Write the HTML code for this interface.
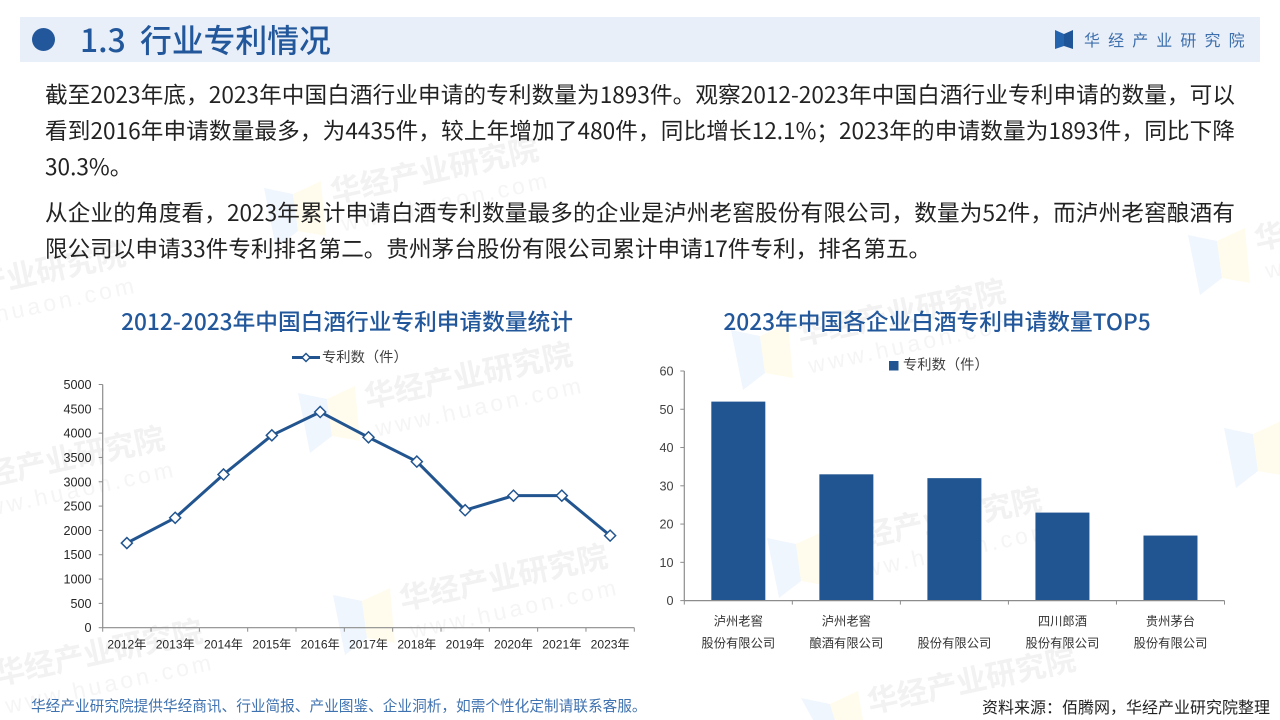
<!DOCTYPE html>
<html lang="zh-CN">
<head>
<meta charset="utf-8">
<title>1.3 行业专利情况</title>
<style>
html,body{margin:0;padding:0;background:#fff;overflow:hidden;width:1280px;height:720px;}
#stage{position:relative;width:1280px;height:720px;overflow:hidden;background:#fff;font-family:"Liberation Sans","Noto Sans CJK SC",sans-serif;}
.abs{position:absolute;white-space:nowrap;}
.body-line{left:45px;width:1190px;font-size:22.6px;line-height:36px;height:36px;color:#222;font-family:"Noto Sans CJK SC",sans-serif;}
.just{text-align:justify;text-align-last:justify;white-space:normal;}
svg{position:absolute;left:0;top:0;}
</style>
</head>
<body>
<div id="stage">

<svg id="wm" width="1280" height="720"></svg>

<div class="abs" style="left:20px;top:17px;width:1240px;height:45px;background:#e9eff8;"></div>
<div class="abs" style="left:32px;top:28px;width:23px;height:23px;border-radius:50%;background:#22589b;"></div>
<div class="abs" style="left:80px;top:15px;height:48px;line-height:48px;font-size:31.8px;font-weight:500;color:#22589b;font-family:'Noto Sans CJK SC',sans-serif;">1.3&nbsp; 行业专利情况</div>
<svg width="1280" height="720" style="pointer-events:none">
  <polygon points="1055,30 1064,34 1064,46 1055,49" fill="#2463ae"/>
  <polygon points="1073,30 1064,34 1064,46 1073,49" fill="#1d5598"/>
</svg>
<div class="abs" style="left:1084px;top:27px;height:24px;line-height:24px;font-size:16px;letter-spacing:8.1px;color:#3d6fad;font-family:'Noto Sans CJK SC',sans-serif;">华经产业研究院</div>

<div class="abs body-line just" style="top:76px;">截至2023年底，2023年中国白酒行业申请的专利数量为1893件。观察2012-2023年中国白酒行业专利申请的数量，可以</div>
<div class="abs body-line just" style="top:112px;">看到2016年申请数量最多，为4435件，较上年增加了480件，同比增长12.1%；2023年的申请数量为1893件，同比下降</div>
<div class="abs body-line" style="top:148px;">30.3%。</div>
<div class="abs body-line just" style="top:194px;">从企业的角度看，2023年累计申请白酒专利数量最多的企业是泸州老窖股份有限公司，数量为52件，而泸州老窖酿酒有</div>
<div class="abs body-line" style="top:230px;">限公司以申请33件专利排名第二。贵州茅台股份有限公司累计申请17件专利，排名第五。</div>

<div class="abs" style="left:47px;width:600px;text-align:center;top:304px;height:34px;line-height:34px;font-size:22.7px;font-weight:500;color:#22589b;font-family:'Noto Sans CJK SC',sans-serif;">2012-2023年中国白酒行业专利申请数量统计</div>
<div class="abs" style="left:637px;width:600px;text-align:center;top:304px;height:34px;line-height:34px;font-size:22.7px;font-weight:500;color:#22589b;font-family:'Noto Sans CJK SC',sans-serif;">2023年中国各企业白酒专利申请数量TOP5</div>

<svg id="chart" width="1280" height="720"></svg>

<div class="abs" style="left:31px;top:696px;height:20px;line-height:20px;font-size:14.67px;color:#3f72b0;font-family:'Noto Sans CJK SC',sans-serif;">华经产业研究院提供华经商讯、行业简报、产业图鉴、企业洞析，如需个性化定制请联系客服。</div>
<div class="abs" style="left:982px;top:695px;height:22px;line-height:22px;font-size:16px;color:#222;font-family:'Noto Sans CJK SC',sans-serif;">资料来源：佰腾网，华经产业研究院整理</div>
</div>

<script>
// Line chart data
var lineCategories = ['2012年','2013年','2014年','2015年','2016年','2017年','2018年','2019年','2020年','2021年','2023年'];
var lineValues = [1740,2260,3150,3955,4435,3915,3415,2415,2715,2715,1893];
var lineTicks = [0,500,1000,1500,2000,2500,3000,3500,4000,4500,5000];
var lineSeriesName = '专利数（件）';

// Bar chart data
var barCategoriesLine1 = ['泸州老窖','泸州老窖','','四川郎酒','贵州茅台'];
var barCategoriesLine2 = ['股份有限公司','酿酒有限公司','股份有限公司','股份有限公司','股份有限公司'];
var barValues = [52,33,32,23,17];
var barTicks = [0,10,20,30,40,50,60];
var barSeriesName = '专利数（件）';

var NS = 'http://www.w3.org/2000/svg';
var FONT = '"Liberation Sans","Noto Sans CJK SC",sans-serif';
var svg = document.getElementById('chart');

function make(tag, attrs, parent, text) {
  var el = document.createElementNS(NS, tag);
  for (var k in attrs) { el.setAttribute(k, attrs[k]); }
  if (text !== undefined) { el.textContent = text; }
  (parent || svg).appendChild(el);
  return el;
}

/* ---------- line chart ---------- */
var lx0 = 102.7, lx1 = 634.3, ly0 = 627.7, ly1 = 384.5, lMax = 5000;
function lineX(i) { return lx0 + (i + 0.5) * (lx1 - lx0) / lineCategories.length; }
function lineY(v) { return ly0 - (v / lMax) * (ly0 - ly1); }

var lineAxisY = make('line', {x1:lx0,y1:ly0,x2:lx0,y2:ly1,stroke:'#8c8c8c','stroke-width':1.2});


var lineAxisX = make('line', {x1:lx0,y1:ly0,x2:lx1,y2:ly0,stroke:'#8c8c8c','stroke-width':1.2});



lineTicks.forEach(function (t) {
  var y = lineY(t);
  make('line', {x1:lx0-4,y1:y,x2:lx0,y2:y,stroke:'#8c8c8c','stroke-width':1});
  var lab = make('text', {x:91.5,y:y+4.5,'text-anchor':'end','font-size':12.6,fill:'#262626','font-family':FONT}, svg, String(t));
  
  
});
lineCategories.forEach(function (c, i) {
  var step = (lx1 - lx0) / lineCategories.length;
  make('line', {x1:lx0+i*step,y1:ly0,x2:lx0+i*step,y2:ly0+4,stroke:'#8c8c8c','stroke-width':1});
  var lab = make('text', {x:lineX(i),y:648.5,'text-anchor':'middle','font-size':12.1,fill:'#262626','font-family':FONT}, svg, c);
  
  
});
make('line', {x1:lx1,y1:ly0,x2:lx1,y2:ly0+4,stroke:'#8c8c8c','stroke-width':1});

var linePts = lineValues.map(function (v, i) { return lineX(i) + ',' + lineY(v); }).join(' ');
var seriesLine = make('polyline', {points:linePts,fill:'none',stroke:'#22558f','stroke-width':3,'stroke-linejoin':'round'});



function diamond(cx, cy, r, parent) {
  return make('polygon', {points:(cx-r)+','+cy+' '+cx+','+(cy-r)+' '+(cx+r)+','+cy+' '+cx+','+(cy+r),fill:'#fff',stroke:'#22558f','stroke-width':1.5}, parent);
}
lineValues.forEach(function (v, i) {
  var d = diamond(lineX(i), lineY(v), 5.5);
  
  
});

var legLine = make('line', {x1:292,y1:357.5,x2:320,y2:357.5,stroke:'#22558f','stroke-width':3});


var legD = diamond(306, 357.5, 4);


var legT = make('text', {x:322,y:362,'font-size':14.3,fill:'#404040','font-family':FONT}, svg, lineSeriesName);



/* ---------- bar chart ---------- */
var bx0 = 684.3, bx1 = 1224.5, by0 = 600.6, by1 = 371, bMax = 60, barW = 54;
function barX(i) { return bx0 + (i + 0.5) * (bx1 - bx0) / barValues.length; }
function barY(v) { return by0 - (v / bMax) * (by0 - by1); }

barValues.forEach(function (v, i) {
  var r = make('rect', {x:barX(i)-barW/2,y:barY(v),width:barW,height:by0-barY(v),fill:'#215591'});
  
  
});
var barAxisY = make('line', {x1:bx0,y1:by0,x2:bx0,y2:by1,stroke:'#8c8c8c','stroke-width':1.2});


var barAxisX = make('line', {x1:bx0,y1:by0,x2:bx1,y2:by0,stroke:'#8c8c8c','stroke-width':1.2});



barTicks.forEach(function (t) {
  var y = barY(t);
  make('line', {x1:bx0-4,y1:y,x2:bx0,y2:y,stroke:'#8c8c8c','stroke-width':1});
  var lab = make('text', {x:673.5,y:y+4.5,'text-anchor':'end','font-size':12.6,fill:'#404040','font-family':FONT}, svg, String(t));
  
  
});
barValues.forEach(function (v, i) {
  var step = (bx1 - bx0) / barValues.length;
  make('line', {x1:bx0+i*step,y1:by0,x2:bx0+i*step,y2:by0+4,stroke:'#8c8c8c','stroke-width':1});
  if (barCategoriesLine1[i]) {
    var l1 = make('text', {x:barX(i),y:625.5,'text-anchor':'middle','font-size':12.3,fill:'#333','font-family':FONT}, svg, barCategoriesLine1[i]);
    
    
  }
  var l2 = make('text', {x:barX(i),y:647.5,'text-anchor':'middle','font-size':12.3,fill:'#333','font-family':FONT}, svg, barCategoriesLine2[i]);
  
  
});
make('line', {x1:bx1,y1:by0,x2:bx1,y2:by0+4,stroke:'#8c8c8c','stroke-width':1});

var legS = make('rect', {x:889,y:361,width:9.5,height:9.5,fill:'#215591'});


var legB = make('text', {x:903,y:369.5,'font-size':14.3,fill:'#404040','font-family':FONT}, svg, barSeriesName);



/* ---------- watermark tiles ---------- */
var wm = document.getElementById('wm');
var wmAnchors = [[333,203],[367,408],[402,610],[-80,308],[-41,492],[-3,685],[800,345],[836,553],[870,713],[1257,250],[1293,443]];
var wmBlue = [[-69,-15],[-40,-9],[-35,28],[-57,45]];
var wmYellow = [[-40,-9],[-12,-22],[-7,33],[-35,28]];
function wmPoints(list, a) {
  return list.map(function (p) {
    return (a[0] + p[0]) + ',' + Math.min(a[1] + p[1], 720);
  }).join(' ');
}
wmAnchors.forEach(function (a) {
  var blue = make('polygon', {points:wmPoints(wmBlue, a), fill:'#f0f6fe'}, wm);
  
  
  var yellow = make('polygon', {points:wmPoints(wmYellow, a), fill:'#fffcee'}, wm);
  
  
  var g = make('g', {transform:'translate('+a[0]+','+a[1]+') rotate(-12)'}, wm);
  
  
  make('text', {x:0,y:0,'font-size':30.3,'font-weight':700,fill:'#f2f2f2','font-family':'"Noto Sans CJK SC",sans-serif'}, g, '华经产业研究院');
  if (a[1] + 30 < 716) {
    make('text', {x:4,y:30,'font-size':23,'letter-spacing':3.4,fill:'#f5f5f5','font-family':FONT}, g, 'www.huaon.com');
  }
});
</script>
</body>
</html>
